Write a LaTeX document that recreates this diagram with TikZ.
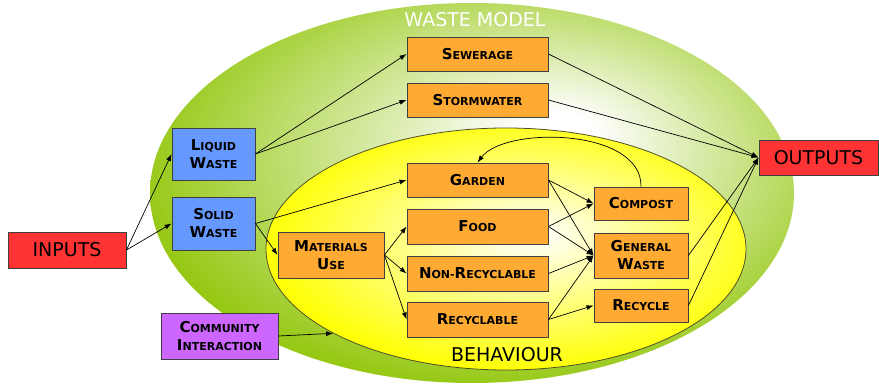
\documentclass[tikz,border=0pt]{standalone}
\usepackage{fontspec}
\setmainfont{DejaVu Sans}
\usetikzlibrary{shapes.geometric,arrows.meta}
\definecolor{wgreen}{RGB}{150,200,20}
\definecolor{wyellow}{RGB}{255,255,0}
\definecolor{boxorange}{RGB}{255,170,51}
\definecolor{boxblue}{RGB}{102,153,255}
\definecolor{boxred}{RGB}{255,51,51}
\definecolor{boxpurple}{RGB}{204,102,255}
\definecolor{boxline}{RGB}{64,64,64}
\definecolor{yline}{RGB}{80,80,40}
\pgfdeclareradialshading{greenshade}{\pgfpoint{7bp}{8bp}}{color(0bp)=(white); color(3bp)=(white); color(29bp)=(wgreen); color(50bp)=(wgreen)}
\pgfdeclareradialshading{yellowshade}{\pgfpoint{3bp}{3bp}}{color(0bp)=(white); color(3bp)=(wyellow!10); color(27bp)=(wyellow); color(50bp)=(wyellow)}
\newcommand\smc[2]{{\fontsize{15}{18}\selectfont #1}#2}
\begin{document}
\begin{tikzpicture}[x=1pt,y=-1pt,
  box/.style={draw=boxline, line width=0.9pt, inner sep=0pt, align=center,
    font=\fontsize{11}{18}\selectfont\bfseries, text=black},
  ob/.style={box, fill=boxorange, minimum width=141pt, minimum height=34pt},
  rb/.style={box, fill=boxorange, minimum width=94pt, minimum height=33pt},
  bb/.style={box, fill=boxblue, minimum width=83pt, minimum height=52pt},
  big/.style={box, fill=boxred, font=\fontsize{19}{22}\selectfont},
  lbl/.style={inner sep=0pt, font=\fontsize{19}{22}\selectfont},
  arr/.style={-{Latex[length=7pt,width=5pt]}, line width=0.7pt}]
\useasboundingbox (0,0) rectangle (879,385);
% ellipses
\node[ellipse, minimum width=644pt, minimum height=380pt, inner sep=0pt, shading=greenshade] (model) at (472,193) {};
\node[ellipse, minimum width=480pt, minimum height=242pt, inner sep=0pt, shading=yellowshade, draw=yline, line width=0.8pt] (behav) at (506,249) {};
\node[lbl, text=white] (wm) at (475,19.5) {WASTE MODEL};
\node[lbl, text=black] (bh) at (507,354.5) {BEHAVIOUR};
% boxes
\node[big, minimum width=118pt, minimum height=36pt] (inputs) at (67,250) {INPUTS};
\node[big, minimum width=119pt, minimum height=35pt] (outputs) at (818.5,157.5) {OUTPUTS};
\node[bb] (liquid) at (213.5,154) {\smc{L}{IQUID}\\\smc{W}{ASTE}};
\node[bb, minimum height=53pt] (solid) at (213.5,223.5) {\smc{S}{OLID}\\\smc{W}{ASTE}};
\node[box, fill=boxpurple, minimum width=117pt, minimum height=46pt] (comm) at (219.5,336) {\smc{C}{OMMUNITY}\\\smc{I}{NTERACTION}};
\node[ob] (sewer) at (477.5,54) {\smc{S}{EWERAGE}};
\node[ob] (storm) at (477.5,100) {\smc{S}{TORMWATER}};
\node[ob] (garden) at (477.5,180) {\smc{G}{ARDEN}};
\node[ob, minimum height=35pt] (food) at (477.5,226.5) {\smc{F}{OOD}};
\node[ob, minimum height=35pt] (nonrec) at (477.5,273.5) {\smc{N}{ON-}\smc{R}{ECYCLABLE}};
\node[ob, minimum height=35pt] (recyc) at (477.5,319.5) {\smc{R}{ECYCLABLE}};
\node[box, fill=boxorange, minimum width=106pt, minimum height=46pt] (mat) at (331,255) {\smc{M}{ATERIALS}\\\smc{U}{SE}};
\node[rb] (compost) at (641,203.5) {\smc{C}{OMPOST}};
\node[rb, minimum height=45pt] (general) at (641,255.5) {\smc{G}{ENERAL}\\\smc{W}{ASTE}};
\node[rb] (recycle) at (641,305.5) {\smc{R}{ECYCLE}};
% connectors
\draw[arr] (inputs.east) -- (liquid.west);
\draw[arr] (inputs.east) -- (solid.west);
\draw[arr] (liquid.east) -- (sewer.west);
\draw[arr] (liquid.east) -- (storm.west);
\draw[arr] (solid.east) -- (garden.west);
\draw[arr] (solid.east) -- (mat.west);
\draw[arr] (mat.east) -- (food.west);
\draw[arr] (mat.east) -- (nonrec.west);
\draw[arr] (mat.east) -- (recyc.west);
\draw[arr] (garden.east) -- (compost.west);
\draw[arr] (garden.east) -- (general.west);
\draw[arr] (food.east) -- (compost.west);
\draw[arr] (food.east) -- (general.west);
\draw[arr] (nonrec.east) -- (general.west);
\draw[arr] (recyc.east) -- (general.west);
\draw[arr] (recyc.east) -- (recycle.west);
\draw[arr] (compost.north) .. controls (642,128) and (505,126) .. (garden.north);
\draw[arr] (sewer.east) -- (outputs.west);
\draw[arr] (storm.east) -- (outputs.west);
\draw[arr] (general.east) -- (outputs.west);
\draw[arr] (recycle.east) -- (outputs.west);
\draw[arr] (comm.east) -- (behav.206.4);
\end{tikzpicture}
\end{document}
